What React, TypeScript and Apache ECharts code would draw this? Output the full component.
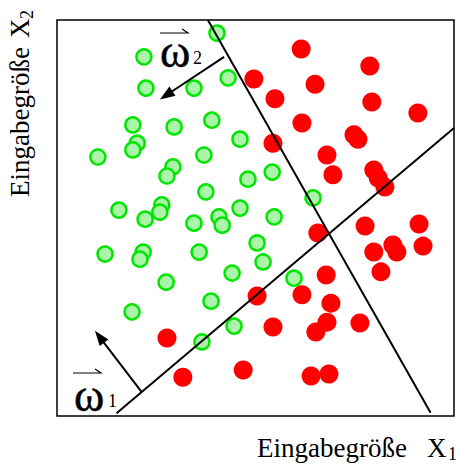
import { useEffect, useRef } from "react";
import * as echarts from "echarts";

// Class 1 (green, hollow-looking) samples in feature space (X1, X2)
const greenPoints: [number, number][] = [
  [4.03, 9.67], [2.19, 9.07], [2.24, 8.28], [3.45, 8.28], [4.31, 8.54],
  [1.91, 7.35], [2.95, 7.30], [3.90, 7.47], [4.61, 6.99], [2.02, 6.89],
  [1.91, 6.72], [1.03, 6.54], [3.70, 6.59], [2.92, 6.29], [2.77, 6.06],
  [4.81, 5.98], [5.42, 6.16], [3.75, 5.66], [1.56, 5.20], [2.64, 5.33],
  [2.59, 5.15], [2.22, 4.97], [3.45, 4.87], [4.08, 5.03], [4.16, 4.82],
  [4.61, 5.25], [5.47, 5.03], [6.45, 5.51], [5.04, 4.37], [5.19, 3.89],
  [5.97, 3.48], [1.21, 4.09], [2.17, 4.14], [2.09, 3.96], [3.58, 4.14],
  [2.75, 3.38], [4.41, 3.61], [3.88, 2.90], [1.89, 2.63], [4.46, 2.27],
  [3.65, 1.87],
];

// Class 2 (red, filled) samples
const redPoints: [number, number][] = [
  [6.15, 9.27], [4.96, 8.51], [6.50, 8.38], [7.88, 8.84], [5.49, 8.01],
  [7.93, 7.93], [9.09, 7.65], [6.17, 7.40], [7.48, 7.10], [7.58, 6.99],
  [5.44, 6.89], [6.80, 6.59], [6.95, 6.09], [7.98, 6.21], [8.09, 6.01],
  [8.26, 5.78], [6.57, 4.62], [7.76, 4.80], [9.12, 4.85], [7.98, 4.14],
  [8.46, 4.32], [8.56, 4.14], [9.22, 4.29], [8.16, 3.64], [6.78, 3.56],
  [6.17, 3.06], [5.04, 3.03], [6.90, 2.85], [6.80, 2.37], [6.52, 2.12],
  [7.63, 2.35], [5.44, 2.25], [2.77, 1.97], [3.17, 0.98], [4.69, 1.16],
  [6.40, 1.01], [6.85, 1.06],
];

// Separating lines (start, end)
const boundaryLines: [number, number][][] = [
  [[3.80, 10.0], [9.41, 0.08]],
  [[1.50, 0.07], [10.0, 7.27]],
];

// Normal vectors ω1, ω2 (base on line, arrow head)
const normalArrows: [number, number][][] = [
  [[2.13, 0.61], [1.07, 2.0]],
  [[4.21, 9.07], [2.75, 8.1]],
];

const xTitle = "Eingabegröße";
const xVar = "X";
const xSub = "1";
const yTitle = "Eingabegröße";
const yVar = "X";
const ySub = "2";
const omega = "ω";

const SERIF = '"Liberation Serif", "Times New Roman", serif';

function txt(
  text: string,
  x: number,
  y: number,
  size: number,
  rotation = 0,
  outline = 0
): any {
  const style: any = {
    text,
    fontSize: size,
    fontFamily: SERIF,
    fill: "#000",
    align: "left",
    textAlign: "left",
    verticalAlign: "middle",
    textVerticalAlign: "middle",
  };
  if (outline > 0) {
    style.stroke = "#000";
    style.lineWidth = outline;
  }
  return {
    type: "text",
    x,
    y,
    rotation,
    silent: true,
    z: 100,
    style,
  };
}

function vecArrow(x1: number, x2: number, y: number): any {
  return {
    type: "polyline",
    silent: true,
    z: 100,
    shape: {
      points: [
        [x1, y],
        [x2, y],
        [x2 - 6, y - 4],
      ],
    },
    style: { stroke: "#000", lineWidth: 1.2, fill: null },
  };
}

export default function App() {
  const ref = useRef<HTMLDivElement>(null);

  useEffect(() => {
    if (!ref.current) return;
    const chart = echarts.init(ref.current, null, { renderer: "svg" });

    const option: any = {
      animation: false,
      backgroundColor: "#fff",
      grid: {
        left: 57,
        top: 20,
        width: 397,
        height: 396,
        show: true,
        borderColor: "#000",
        borderWidth: 1.5,
        backgroundColor: "transparent",
      },
      xAxis: {
        type: "value",
        min: 0,
        max: 10,
        show: false,
      },
      yAxis: {
        type: "value",
        min: 0,
        max: 10,
        show: false,
      },
      series: [
        {
          type: "scatter",
          name: "Klasse 1",
          data: greenPoints,
          symbol: "circle",
          symbolSize: 15,
          itemStyle: {
            color: "#aaf5aa",
            borderColor: "#00e600",
            borderWidth: 2.5,
            opacity: 1,
          },
          z: 2,
        },
        {
          type: "scatter",
          name: "Klasse 2",
          data: redPoints,
          symbol: "circle",
          symbolSize: 19,
          itemStyle: { color: "#ff0000", opacity: 1 },
          z: 2,
        },
        {
          type: "scatter",
          name: "Trennlinien",
          data: [],
          z: 5,
          markLine: {
            silent: true,
            animation: false,
            symbol: ["none", "none"],
            label: { show: false },
            lineStyle: { color: "#000", width: 2, type: "solid" },
            data: [
              ...boundaryLines.map((l) => [
                { coord: l[0], symbol: "none" },
                { coord: l[1], symbol: "none" },
              ]),
              ...normalArrows.map((l) => [
                { coord: l[0], symbol: "none" },
                { coord: l[1], symbol: "triangle", symbolSize: [11, 15] },
              ]),
            ],
          },
        },
      ],
      graphic: [
        // ω2 label
        txt(omega, 160, 51, 46, 0, 0.5),
        txt(ySub, 193, 58, 18),
        vecArrow(160, 188, 33),
        // ω1 label
        txt(omega, 74, 395, 46, 0, 0.5),
        txt(xSub, 108, 401, 18),
        vecArrow(73, 101, 373),
        // x axis title
        txt(xTitle, 257, 448, 27),
        txt(xVar, 427, 448, 27),
        txt(xSub, 448, 454, 18),
        // y axis title (rotated)
        txt(yTitle, 20, 197, 27, Math.PI / 2),
        txt(yVar, 20, 38, 27, Math.PI / 2),
        txt(ySub, 27, 19, 18, Math.PI / 2),
      ],
    };

    chart.setOption(option);
    return () => chart.dispose();
  }, []);

  return (
    <div
      ref={ref}
      style={{
        position: "fixed",
        left: 0,
        top: 0,
        width: 459,
        height: 464,
        background: "#fff",
      }}
    />
  );
}
